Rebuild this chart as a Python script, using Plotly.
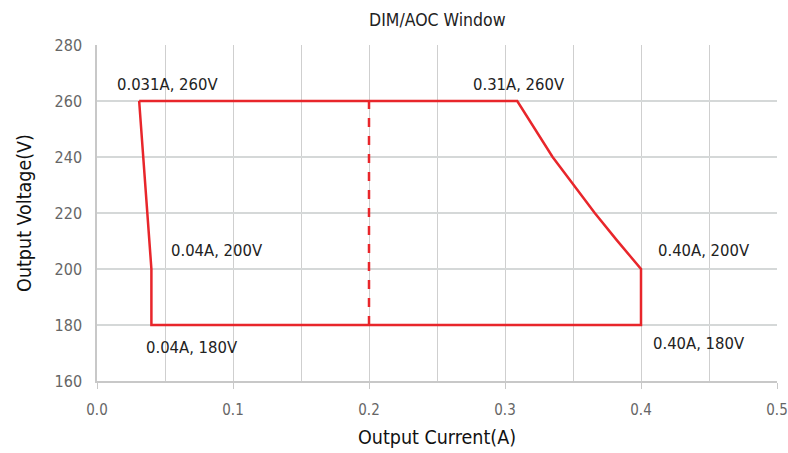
import plotly.graph_objects as go

# Window outline (current A, voltage V)
window_current = [0.031, 0.309, 0.335, 0.350, 0.366, 0.382, 0.400, 0.400, 0.040, 0.040, 0.031]
window_voltage = [260, 260, 240, 230.3, 220, 210.4, 200, 180, 180, 200, 260]

# Dashed divider
divider_current = [0.2, 0.2]
divider_voltage = [180, 260]

# Corner labels
label_text = ["0.031A, 260V", "0.31A, 260V", "0.04A, 200V", "0.40A, 200V", "0.04A, 180V", "0.40A, 180V"]
label_x = [0.052, 0.310, 0.088, 0.446, 0.070, 0.443]
label_y = [266, 266, 206.5, 206.5, 172, 173.5]

FONT = "DejaVu Sans Condensed, Liberation Sans Narrow, Roboto, sans-serif"
RED = "#e8262b"

fig = go.Figure()
fig.add_trace(go.Scatter(x=window_current, y=window_voltage, mode="lines",
                         line=dict(color=RED, width=2.5), hoverinfo="skip", showlegend=False))
fig.add_trace(go.Scatter(x=divider_current, y=divider_voltage, mode="lines",
                         line=dict(color=RED, width=2.5, dash="dash"), hoverinfo="skip", showlegend=False))

for t, x, y in zip(label_text, label_x, label_y):
    fig.add_annotation(x=x, y=y, text=t, showarrow=False,
                       font=dict(family=FONT, size=16.5, color="#222222"))

fig.update_layout(
    width=788, height=453,
    margin=dict(l=97, r=11, t=45, b=72, autoexpand=False),
    paper_bgcolor="white", plot_bgcolor="white",
    title=dict(text="DIM/AOC Window", x=0.555, xanchor="center", y=0.956, yanchor="middle",
               font=dict(family=FONT, size=17.5, color="#222222")),
    xaxis=dict(range=[0, 0.5], tickvals=[0, 0.1, 0.2, 0.3, 0.4, 0.5],
               ticktext=["0.0", "0.1", "0.2", "0.3", "0.4", "0.5"],
               showgrid=True, gridcolor="#cfcfcf", gridwidth=1, zeroline=False,
               minor=dict(dtick=0.05, tick0=0, showgrid=True, gridcolor="#cfcfcf", gridwidth=1, ticks=""),
               showline=True, linecolor="#c8c8c8", linewidth=1.5,
               ticks="outside", ticklen=6, tickcolor="#c8c8c8", ticklabelstandoff=8,
               ticklabeloverflow="allow",
               tickfont=dict(family=FONT, size=15, color="#666666"),
               title=dict(text="Output Current(A)", font=dict(family=FONT, size=19.5, color="#111111"),
                          standoff=13)),
    yaxis=dict(range=[160, 280], dtick=20, showgrid=True, gridcolor="#d5d8d8", gridwidth=2,
               zeroline=False, showline=True, linecolor="#c8c8c8", linewidth=1.5,
               ticks="", ticklabelstandoff=10, tickfont=dict(family=FONT, size=16, color="#666666"),
               title=dict(text="Output Voltage(V)", font=dict(family=FONT, size=19.5, color="#111111"),
                          standoff=18)),
)

fig.write_html("out.html", config={"displayModeBar": False},
               post_script="document.body.style.margin='0px';document.body.style.overflow='hidden';")
